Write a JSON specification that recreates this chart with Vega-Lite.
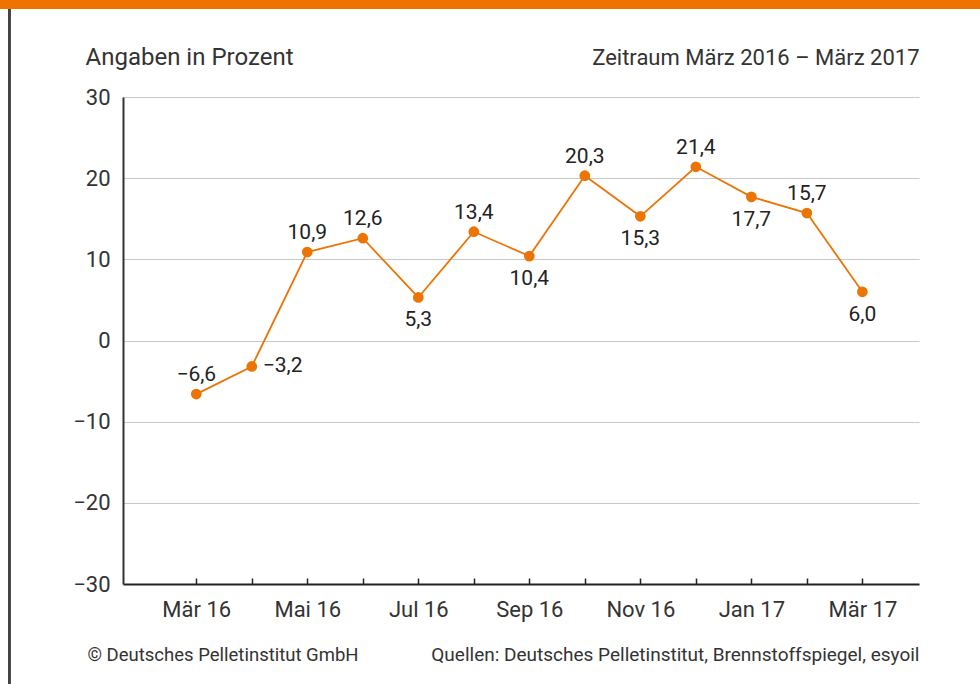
{
  "$schema": "https://vega.github.io/schema/vega-lite/v6.json",
  "width": 796,
  "height": 487,
  "autosize": {"type": "none"},
  "padding": {"left": 123, "top": 97, "right": 61, "bottom": 100},
  "background": "white",
  "config": {
    "font": "Roboto",
    "view": {"stroke": null},
    "locale": {
      "number": {"decimal": ",", "thousands": ".", "grouping": [3], "currency": ["", " €"]}
    },
    "axis": {
      "labelFont": "Roboto",
      "titleFont": "Roboto",
      "labelColor": "#333333",
      "titleColor": "#333333",
      "titleFontWeight": "normal"
    }
  },
  "data": {
    "values": [
      {"i": 0, "monat": "Mär 16", "wert": -6.6},
      {"i": 1, "monat": "Apr 16", "wert": -3.2},
      {"i": 2, "monat": "Mai 16", "wert": 10.9},
      {"i": 3, "monat": "Jun 16", "wert": 12.6},
      {"i": 4, "monat": "Jul 16", "wert": 5.3},
      {"i": 5, "monat": "Aug 16", "wert": 13.4},
      {"i": 6, "monat": "Sep 16", "wert": 10.4},
      {"i": 7, "monat": "Okt 16", "wert": 20.3},
      {"i": 8, "monat": "Nov 16", "wert": 15.3},
      {"i": 9, "monat": "Dez 16", "wert": 21.4},
      {"i": 10, "monat": "Jan 17", "wert": 17.7},
      {"i": 11, "monat": "Feb 17", "wert": 15.7},
      {"i": 12, "monat": "Mär 17", "wert": 6.0}
    ]
  },
  "layer": [
    {
      "mark": {"type": "line", "color": "#EC7404", "strokeWidth": 1.8},
      "encoding": {
        "x": {
          "field": "i", "type": "quantitative",
          "scale": {"domain": [-1.32, 13.02], "nice": false, "zero": false},
          "axis": {
            "orient": "bottom",
            "values": [0, 2, 4, 6, 8, 10, 12],
            "labelExpr": "['Mär 16','Apr 16','Mai 16','Jun 16','Jul 16','Aug 16','Sep 16','Okt 16','Nov 16','Dez 16','Jan 17','Feb 17','Mär 17'][datum.value]",
            "grid": false,
            "domainColor": "#222222",
            "domainWidth": 2,
            "ticks": false,
            "labelFontSize": 22,
            "labelPadding": 32,
            "labelBaseline": "alphabetic",
            "title": "© Deutsches Pelletinstitut GmbH",
            "titleFontSize": 18.5,
            "titleX": -36,
            "titleY": 76,
            "titleAlign": "left",
            "titleAnchor": "start",
            "titleBaseline": "alphabetic"
          }
        },
        "y": {
          "field": "wert", "type": "quantitative",
          "scale": {"domain": [-30, 30], "nice": false},
          "axis": {
            "orient": "left",
            "values": [-30, -20, -10, 0, 10, 20, 30],
            "format": "d",
            "grid": true,
            "gridColor": "#c8c8c8",
            "gridWidth": 1,
            "ticks": false,
            "domainColor": "#333333",
            "domainWidth": 2,
            "labelFontSize": 22,
            "labelPadding": 13,
            "title": "Angaben in Prozent",
            "titleFontSize": 24,
            "titleAngle": 0,
            "titleX": -38,
            "titleY": -33,
            "titleAlign": "left",
            "titleBaseline": "alphabetic"
          }
        }
      }
    },
    {
      "mark": {"type": "point", "filled": true, "opacity": 1, "color": "#EC7404", "size": 115},
      "encoding": {
        "x": {
          "field": "i", "type": "quantitative",
          "axis": {
            "orient": "top", "labels": false, "ticks": false, "domain": false, "grid": false,
            "title": "Quellen: Deutsches Pelletinstitut, Brennstoffspiegel, esyoil",
            "titleFontSize": 19,
            "titleX": 796,
            "titleY": 563,
            "titleAlign": "right",
            "titleBaseline": "alphabetic"
          }
        },
        "y": {
          "field": "wert", "type": "quantitative",
          "axis": {
            "orient": "right", "labels": false, "ticks": false, "domain": false, "grid": false,
            "title": "Zeitraum März 2016 – März 2017",
            "titleFontSize": 22,
            "titleAngle": 0,
            "titleX": 0,
            "titleY": -33,
            "titleAlign": "right",
            "titleBaseline": "alphabetic"
          }
        }
      }
    },
    {
      "transform": [{"filter": "indexof([0,2,3,5,7,9,11], datum.i) >= 0"}],
      "mark": {"type": "text", "fontSize": 21, "color": "#222222", "baseline": "alphabetic", "dy": -13},
      "encoding": {
        "x": {
          "field": "i", "type": "quantitative",
          "axis": {
            "orient": "bottom", "offset": -6, "values": [0, 1, 2, 3, 4, 5, 6, 7, 8, 9, 10, 11, 12],
            "labels": false, "domain": false, "grid": false, "ticks": true,
            "tickSize": 6, "tickWidth": 1.5, "tickColor": "#222222", "title": null
          }
        },
        "y": {"field": "wert", "type": "quantitative", "axis": null},
        "text": {"field": "wert", "type": "quantitative", "format": ".1f"}
      }
    },
    {
      "transform": [{"filter": "indexof([4,6,8,10,12], datum.i) >= 0"}],
      "mark": {"type": "text", "fontSize": 21, "color": "#222222", "baseline": "top", "dy": 12},
      "encoding": {
        "x": {"field": "i", "type": "quantitative", "axis": null},
        "y": {"field": "wert", "type": "quantitative", "axis": null},
        "text": {"field": "wert", "type": "quantitative", "format": ".1f"}
      }
    },
    {
      "transform": [{"filter": "datum.i == 1"}],
      "mark": {"type": "text", "fontSize": 21, "color": "#222222", "baseline": "middle", "align": "left", "dx": 11},
      "encoding": {
        "x": {"field": "i", "type": "quantitative", "axis": null},
        "y": {"field": "wert", "type": "quantitative", "axis": null},
        "text": {"field": "wert", "type": "quantitative", "format": ".1f"}
      }
    },
    {
      "mark": {"type": "rect", "color": "#EF7300", "clip": false},
      "encoding": {
        "x": {"datum": -3.6, "type": "quantitative", "axis": null},
        "x2": {"datum": 14.2},
        "y": {"datum": 43, "type": "quantitative", "axis": null},
        "y2": {"datum": 40.85}
      }
    },
    {
      "mark": {"type": "rule", "color": "#444444", "strokeWidth": 2, "clip": false},
      "encoding": {
        "x": {"datum": -3.37, "type": "quantitative", "axis": null},
        "y": {"datum": 40.85, "type": "quantitative", "axis": null},
        "y2": {"datum": -42.5}
      }
    }
  ],
  "resolve": {"axis": {"x": "independent", "y": "independent"}}
}
